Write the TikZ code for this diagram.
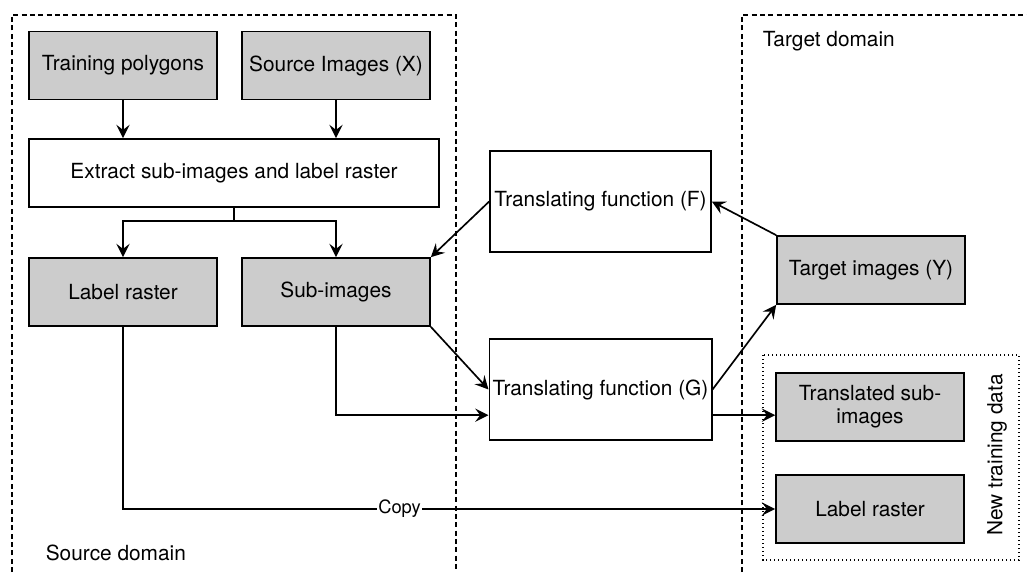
\documentclass[tikz,border=0pt]{standalone}
\usepackage{fontspec}
\setmainfont{TeX Gyre Heros}
\usetikzlibrary{arrows.meta}
\usetikzlibrary{calc}

\begin{document}
\begin{tikzpicture}[x=0.6pt,y=-0.6pt,line width=1pt,
  >={Stealth[length=8pt,width=8pt,inset=3pt]},
  font=\fontsize{12.5}{14}\selectfont,
  gbox/.style={draw,fill=black!20,minimum width=112.8pt,minimum height=40.8pt,inner sep=2pt,align=center},
  wbox/.style={draw,fill=white,minimum width=132.6pt,minimum height=60.6pt,inner sep=2pt,align=center}]
\useasboundingbox (0,0) rectangle (1027,572);
% domains
\draw[dash pattern=on 3pt off 2pt] (12,572)--(12,15)--(456,15)--(456,572);
\draw[dash pattern=on 3pt off 2pt] (742,572)--(742,15)--(1027,15);
\node[anchor=west,inner sep=0] (srcdom) at (45,553) {Source domain};
\node[anchor=west,inner sep=0] (tgtdom) at (762,41) {Target domain};
\draw[dash pattern=on 0.8pt off 1.6pt] (763,355) rectangle (1019,560);
\node[rotate=90,inner sep=0] (newdata) at (997,455) {New training data};

% source side
\node[gbox] (poly) at (123,65.5) {Training polygons};
\node[gbox] (srcimg) at (336,65.5) {Source Images (X)};
\node[draw,minimum width=246pt,minimum height=40.8pt] (extract) at (234,173) {Extract sub-images and label raster};
\node[gbox] (lab) at (123,292) {Label raster};
\node[gbox] (sub) at (336,292) {Sub-images};

% translators
\node[wbox] (F) at (600.5,201.5) {Translating function (F)};
\node[wbox] (G) at (600.5,389.5) {Translating function (G)};

% target side
\node[gbox] (tgtimg) at (871,270) {Target images (Y)};
\node[gbox] (trsub) at (870,407) {Translated sub-\\images};
\node[gbox] (tlab) at (870,509) {Label raster};

\draw[->] (poly) -- (extract.north -| poly);
\draw[->] (srcimg) -- (extract.north -| srcimg);
\draw (extract.south) -- ++(0,13) coordinate (split);
\draw[->] (split) -| (lab.north);
\draw[->] (split) -| (sub.north);

\draw[->] (F.west) -- (sub.north east);
\draw[->] (sub.south east) -- (G.west);
\coordinate (gin) at ($(G.west)!0.5!(G.south west)$);
\draw[->] (sub.south) |- (gin);
\draw[->] (G.east) -- (tgtimg.south west);
\draw[->] (tgtimg.north west) -- (F.east);
\coordinate (gout) at ($(G.east)!0.5!(G.south east)$);
\draw[->] (gout) -- (gout -| trsub.west);
\draw[->] (lab.south) |- node[pos=0.712,fill=white,inner sep=1pt,font=\fontsize{11}{13}\selectfont] {Copy} (tlab.west);

\end{tikzpicture}
\end{document}
